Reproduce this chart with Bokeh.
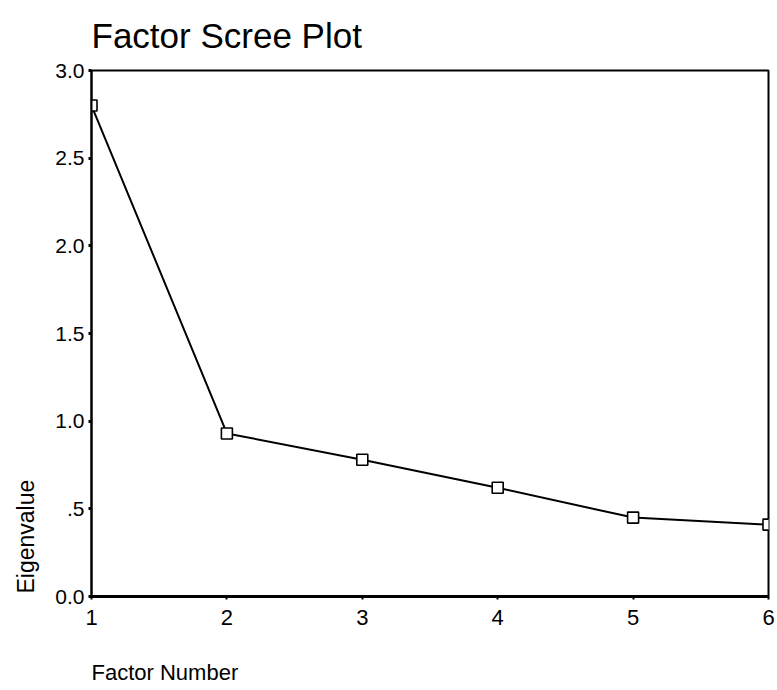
from bokeh.plotting import figure
from bokeh.models import Range1d, FixedTicker, ColumnDataSource, Title
from bokeh.embed import file_html
from bokeh.resources import INLINE

factors = [1, 2, 3, 4, 5, 6]
eigenvalues = [2.80, 0.93, 0.78, 0.62, 0.45, 0.41]
y_ticks = [0.0, 0.5, 1.0, 1.5, 2.0, 2.5, 3.0]
y_tick_labels = ["0.0", ".5", "1.0", "1.5", "2.0", "2.5", "3.0"]
x_ticks = [1, 2, 3, 4, 5, 6]
title_text = "Factor Scree Plot"
x_label_text = "Factor Number"
y_label_text = "Eigenvalue"

FONT = "Liberation Sans"

src = ColumnDataSource(dict(x=factors, y=eigenvalues))

p = figure(width=775, height=690, output_backend="svg", toolbar_location=None,
           x_range=Range1d(factors[0], factors[-1]), y_range=Range1d(y_ticks[0], y_ticks[-1]),
           min_border_left=90, min_border_right=7, min_border_top=70, min_border_bottom=94)
p.title = None

p.line("x", "y", source=src, line_color="black", line_width=2)
p.scatter("x", "y", source=src, marker="square", size=11, fill_color="white",
          line_color="black", line_width=1.6)

p.xgrid.visible = False
p.ygrid.visible = False
p.outline_line_color = "black"
p.outline_line_width = 2
p.background_fill_color = "white"
p.border_fill_color = "white"

p.yaxis.ticker = FixedTicker(ticks=y_ticks)
p.yaxis.major_label_overrides = {t: l for t, l in zip(y_ticks, y_tick_labels)}
p.xaxis.ticker = FixedTicker(ticks=x_ticks)
p.xaxis.major_label_overrides = {t: str(t) for t in x_ticks}

for ax in (p.xaxis, p.yaxis):
    ax.minor_tick_line_color = None
    ax.major_tick_in = 0
    ax.major_tick_out = 3
    ax.major_tick_line_color = "black"
    ax.axis_line_color = "black"
    ax.major_label_text_font = FONT
    ax.major_label_text_color = "black"

p.yaxis.major_label_text_font_size = "21px"
p.xaxis.major_label_text_font_size = "22px"
p.yaxis.major_tick_line_width = 3
p.yaxis.axis_line_width = 2
p.yaxis.major_label_standoff = 4
p.xaxis.major_tick_line_width = 2
p.xaxis.axis_line_width = 3
p.xaxis.major_label_standoff = 10

# blank axis label on the x axis only reserves vertical room below the tick labels
p.xaxis.axis_label = "\u00a0"
p.xaxis.axis_label_text_font = FONT
p.xaxis.axis_label_text_font_size = "22px"
p.xaxis.axis_label_standoff = 3

p.add_layout(Title(text=title_text, align="left", vertical_align="top",
                   text_font=FONT, text_font_size="35px", text_font_style="normal",
                   text_color="black", standoff=28), "above")

p.add_layout(Title(text=x_label_text, align="left", vertical_align="top",
                   text_font=FONT, text_font_size="22px", text_font_style="normal",
                   text_color="black", standoff=2), "below")

p.add_layout(Title(text=y_label_text, align="left", vertical_align="top",
                   text_font=FONT, text_font_size="23px", text_font_style="normal",
                   text_color="black", standoff=24, offset=3), "left")

open("out.html", "w").write(file_html(p, INLINE))
